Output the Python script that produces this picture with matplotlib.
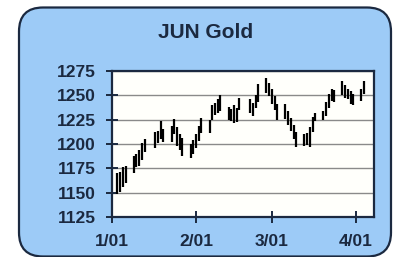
import matplotlib
matplotlib.use("Agg")
import matplotlib.pyplot as plt
from matplotlib.patches import FancyBboxPatch
from matplotlib.transforms import IdentityTransform
import pandas as pd

# JUN gold futures, daily high / low bars
dates = [
    "2017-01-03", "2017-01-04", "2017-01-05", "2017-01-06",
    "2017-01-09", "2017-01-10", "2017-01-11", "2017-01-12", "2017-01-13",
    "2017-01-17", "2017-01-18", "2017-01-19", "2017-01-20",
    "2017-01-23", "2017-01-24", "2017-01-25", "2017-01-26", "2017-01-27",
    "2017-01-30", "2017-01-31", "2017-02-01", "2017-02-02", "2017-02-03",
    "2017-02-06", "2017-02-07", "2017-02-08", "2017-02-09", "2017-02-10",
    "2017-02-13", "2017-02-14", "2017-02-15", "2017-02-16", "2017-02-17",
    "2017-02-21", "2017-02-22", "2017-02-23", "2017-02-24",
    "2017-02-27", "2017-02-28", "2017-03-01", "2017-03-02", "2017-03-03",
    "2017-03-06", "2017-03-07", "2017-03-08", "2017-03-09", "2017-03-10",
    "2017-03-13", "2017-03-14", "2017-03-15", "2017-03-16", "2017-03-17",
    "2017-03-20", "2017-03-21", "2017-03-22", "2017-03-23", "2017-03-24",
    "2017-03-27", "2017-03-28", "2017-03-29", "2017-03-30", "2017-03-31",
    "2017-04-03", "2017-04-04",
]
highs = [
    1170, 1171, 1176, 1177,
    1188, 1190, 1194, 1201, 1205,
    1212, 1213, 1224, 1215,
    1219, 1226, 1217, 1210, 1206,
    1200, 1204, 1210, 1218, 1227,
    1225, 1240, 1242, 1246, 1250,
    1238, 1236, 1240, 1237, 1247,
    1246, 1242, 1250, 1262,
    1268, 1263, 1256, 1249, 1241,
    1241, 1234, 1227, 1220, 1212,
    1210, 1211, 1217, 1228, 1232,
    1234, 1243, 1251, 1256, 1255,
    1265, 1261, 1257, 1254, 1251,
    1256, 1265,
]
lows = [
    1149, 1151, 1156, 1160,
    1170, 1176, 1177, 1184, 1192,
    1196, 1201, 1205, 1202,
    1202, 1210, 1198, 1194, 1188,
    1186, 1190, 1196, 1203, 1211,
    1211, 1225, 1230, 1232, 1234,
    1225, 1224, 1222, 1223, 1235,
    1232, 1229, 1237, 1243,
    1252, 1249, 1241, 1235, 1225,
    1226, 1220, 1213, 1205, 1197,
    1198, 1199, 1197, 1212, 1224,
    1225, 1229, 1237, 1244, 1243,
    1250, 1247, 1246, 1241, 1240,
    1244, 1251,
]
y_ticks = [1125, 1150, 1175, 1200, 1225, 1250, 1275]
x_ticks = ["2017-01-01", "2017-02-01", "2017-03-01", "2017-04-01"]
x_labels = ["1/01", "2/01", "3/01", "4/01"]

navy = "#1b2940"
plt.rcParams["font.family"] = ["Liberation Sans", "DejaVu Sans"]

fig = plt.figure(figsize=(3.98, 2.57), dpi=100, facecolor="white")

# rounded light blue panel behind everything
panel = FancyBboxPatch((19, 0.5), 372, 249, boxstyle="round,pad=0,rounding_size=24",
                       transform=IdentityTransform(), facecolor="#9dcbf7",
                       edgecolor=navy, linewidth=1.6, zorder=-5)
fig.patches.append(panel)

fig.text(206 / 398, 1 - 32 / 257, "JUN Gold", ha="center", va="center",
         fontsize=15, fontweight="bold", color=navy)

ax = fig.add_axes([112 / 398, 1 - 217 / 257, 262 / 398, 146 / 257])
ax.set_zorder(2)
ax.set_facecolor("#fffffb")

d = pd.to_datetime(dates)
ax.vlines(d, lows, highs, color="black", linewidth=1.6, zorder=3)

ax.set_ylim(1125, 1275)
ax.set_xlim(pd.Timestamp("2017-01-01"), pd.Timestamp("2017-04-07 16:00"))
ax.set_yticks(y_ticks)
ax.set_yticklabels([str(v) for v in y_ticks])
ax.set_xticks(pd.to_datetime(x_ticks))
ax.set_xticklabels(x_labels)

ax.grid(axis="y", color="#8a8a8a", linewidth=1.0, zorder=1)
ax.grid(axis="x", visible=False)
for s in ax.spines.values():
    s.set_color(navy)
    s.set_linewidth(1.6)

ax.tick_params(axis="both", direction="inout", length=9, width=1.4, color=navy,
               labelsize=12.5, labelcolor=navy)
ax.tick_params(axis="y", pad=7)
ax.tick_params(axis="x", pad=8)
for lab in ax.get_xticklabels() + ax.get_yticklabels():
    lab.set_fontweight("bold")

fig.savefig("out.png", dpi=100, facecolor="white")
